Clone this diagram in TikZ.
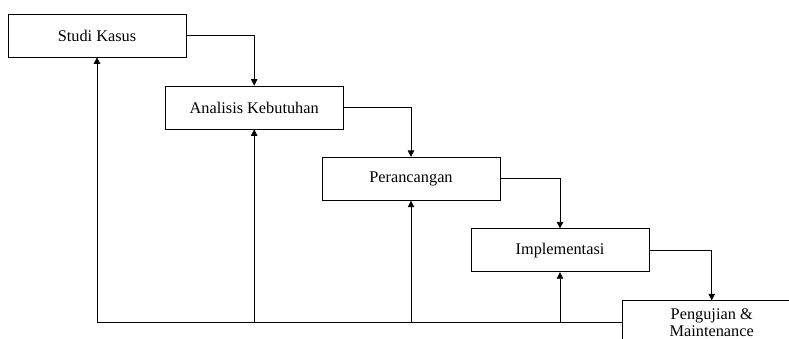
\documentclass[tikz,border=0pt]{standalone}
\usepackage{fontspec}
\setmainfont{Liberation Serif}
\usetikzlibrary{arrows.meta}
\begin{document}
\begin{tikzpicture}[x=1pt,y=-1pt,
  stage/.style={draw=black,line width=0.8pt,fill=white,minimum width=178pt,minimum height=43pt,
    inner sep=0pt,align=center,font=\fontsize{16.3}{17}\selectfont},
  link/.style={draw=black,line width=0.8pt,-{Triangle[length=6.5pt,width=6.5pt]}},
  plain/.style={draw=black,line width=0.8pt}]
\useasboundingbox (0,0) rectangle (789,339);
\clip (0,0) rectangle (789,339);
\node[stage] (s1) at (97,35.5) {Studi Kasus};
\node[stage] (s2) at (254.2,107.5) {Analisis Kebutuhan};
\node[stage] (s3) at (411,178.8) {Perancangan};
\node[stage] (s4) at (560,250.3) {Implementasi};
\node[stage] (s5) at (711.7,322.2) {Pengujian \&\\Maintenance};
\draw[link] (s1.east) -| (s2.north);
\draw[link] (s2.east) -| (s3.north);
\draw[link] (s3.east) -| (s4.north);
\draw[link] (s4.east) -| (s5.north);
\coordinate (b1) at (s1.south |- s5.west);
\draw[plain] (s5.west) -- (b1);
\draw[link] (b1) -- (s1.south);
\draw[link] (s2.south |- s5.west) -- (s2.south);
\draw[link] (s3.south |- s5.west) -- (s3.south);
\draw[link] (s4.south |- s5.west) -- (s4.south);
\end{tikzpicture}
\end{document}
